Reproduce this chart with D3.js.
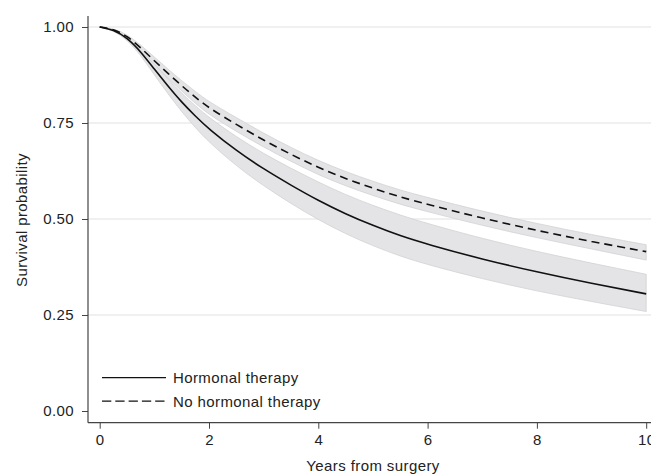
<!DOCTYPE html>
<html>
<head>
<meta charset="utf-8">
<script src="https://cdn.jsdelivr.net/npm/d3@7"></script>
<style>
  body { margin: 0; background: #fff; }
  text { font-family: "Liberation Sans", Arial, Helvetica, sans-serif; fill: #222; letter-spacing: 0.4px; }
</style>
</head>
<body>
<script>
// Data
var years = [0, 0.25, 0.5, 0.75, 1, 1.25, 1.5, 1.75, 2, 2.5, 3, 3.5, 4, 4.5, 5, 5.5, 6, 7, 8, 9, 10];

var hormonal    = [1.000, 0.993, 0.972, 0.936, 0.890, 0.846, 0.804, 0.768, 0.734, 0.678, 0.630, 0.588, 0.548, 0.513, 0.483, 0.456, 0.434, 0.395, 0.362, 0.332, 0.305];
var hormonalLo  = [1.000, 0.991, 0.967, 0.927, 0.875, 0.826, 0.779, 0.738, 0.700, 0.638, 0.586, 0.540, 0.498, 0.461, 0.430, 0.403, 0.381, 0.344, 0.312, 0.285, 0.259];
var hormonalHi  = [1.000, 0.995, 0.976, 0.944, 0.903, 0.864, 0.827, 0.795, 0.764, 0.714, 0.670, 0.632, 0.596, 0.563, 0.535, 0.510, 0.488, 0.449, 0.415, 0.385, 0.356];

var noHormonal   = [1.000, 0.995, 0.977, 0.946, 0.912, 0.879, 0.847, 0.817, 0.789, 0.746, 0.705, 0.668, 0.634, 0.605, 0.580, 0.557, 0.538, 0.502, 0.470, 0.441, 0.415];
var noHormonalLo = [1.000, 0.994, 0.973, 0.939, 0.902, 0.867, 0.833, 0.801, 0.772, 0.728, 0.687, 0.650, 0.615, 0.586, 0.561, 0.538, 0.519, 0.483, 0.451, 0.422, 0.393];
var noHormonalHi = [1.000, 0.996, 0.981, 0.953, 0.922, 0.890, 0.860, 0.832, 0.805, 0.764, 0.723, 0.686, 0.652, 0.623, 0.598, 0.575, 0.556, 0.520, 0.488, 0.459, 0.433];

var xTicks = [0, 2, 4, 6, 8, 10];
var yTicks = [0, 0.25, 0.5, 0.75, 1];
var legendLabels = ["Hormonal therapy", "No hormonal therapy"];

// Canvas
var W = 651, H = 474;

var x = d3.scaleLinear().domain([0, 10]).range([99.7, 646.2]);
var y = d3.scaleLinear().domain([0, 1]).range([411, 27]);

var axisX = 88, axisY = 422.7;

var svg = d3.select("body")
    .append("svg")
        .attr("width", W)
        .attr("height", H);

// gridlines
svg.append("g")
    .selectAll("line")
    .data(yTicks.filter(function(d) { return d > 0; }))
    .enter().append("line")
        .attr("x1", axisX)
        .attr("x2", W)
        .attr("y1", function(d) { return y(d); })
        .attr("y2", function(d) { return y(d); })
        .style("stroke", "#ebebeb")
        .style("stroke-width", 1.4);

function rows(mid, lo, hi) {
    return years.map(function(t, i) { return {t: t, v: mid[i], lo: lo[i], hi: hi[i]}; });
}
var series = [
    {name: legendLabels[0], data: rows(hormonal, hormonalLo, hormonalHi), dash: null},
    {name: legendLabels[1], data: rows(noHormonal, noHormonalLo, noHormonalHi), dash: "8,5"}
];

var band = d3.area()
    .curve(d3.curveBasis)
    .x(function(d) { return x(d.t); })
    .y0(function(d) { return y(d.lo); })
    .y1(function(d) { return y(d.hi); });

var valueline = d3.line()
    .curve(d3.curveBasis)
    .x(function(d) { return x(d.t); })
    .y(function(d) { return y(d.v); });

// confidence bands
series.forEach(function(s) {
    svg.append("path")
        .attr("d", band(s.data))
        .style("fill", "#e4e4e6")
        .style("stroke", "#d2d2d4")
        .style("stroke-width", 0.8);
});

// curves
series.forEach(function(s) {
    svg.append("path")
        .attr("d", valueline(s.data))
        .style("fill", "none")
        .style("stroke", "#111")
        .style("stroke-width", 1.6)
        .style("stroke-dasharray", s.dash);
});

// axes
var yAxis = d3.axisLeft(y).tickValues(yTicks).tickFormat(d3.format(".2f")).tickSize(6).tickSizeOuter(0);
var xAxis = d3.axisBottom(x).tickValues(xTicks).tickFormat(d3.format("d")).tickSize(6).tickSizeOuter(0);

var gy = svg.append("g").attr("transform", "translate(" + axisX + ",0)").call(yAxis);
var gx = svg.append("g").attr("transform", "translate(0," + axisY + ")").call(xAxis);

[gy, gx].forEach(function(g) {
    g.select(".domain").remove();
    g.selectAll(".tick line").style("stroke", "#444");
    g.selectAll(".tick text")
        .style("font-size", "15px")
        .style("fill", "#222")
        .style("font-family", "'Liberation Sans', Arial, sans-serif");
});
gy.selectAll(".tick text").attr("x", -14);
gx.selectAll(".tick text").attr("y", 12);

svg.append("line")
    .attr("x1", axisX).attr("x2", axisX)
    .attr("y1", 16).attr("y2", axisY)
    .style("stroke", "#444").style("stroke-width", 1.2);
svg.append("line")
    .attr("x1", axisX).attr("x2", W)
    .attr("y1", axisY).attr("y2", axisY)
    .style("stroke", "#444").style("stroke-width", 1.2);

// axis titles
svg.append("text")
    .attr("x", 373)
    .attr("y", 471)
    .style("text-anchor", "middle")
    .style("font-size", "15px")
    .text("Years from surgery");

svg.append("text")
    .attr("transform", "translate(27,220) rotate(-90)")
    .style("text-anchor", "middle")
    .style("font-size", "15px")
    .text("Survival probability");

// legend
var legend = svg.append("g")
    .selectAll("g")
    .data(series)
    .enter().append("g")
        .attr("transform", function(d, i) { return "translate(102," + (377.7 + i * 23.5) + ")"; });

legend.append("line")
    .attr("x1", 0).attr("x2", 64)
    .attr("y1", 0).attr("y2", 0)
    .style("stroke", "#111")
    .style("stroke-width", 1.3)
    .style("stroke-dasharray", function(d) { return d.dash ? "9.3,4" : null; });

legend.append("text")
    .attr("x", 71)
    .attr("y", 5.5)
    .style("font-size", "15px")
    .text(function(d) { return d.name; });
</script>
</body>
</html>
